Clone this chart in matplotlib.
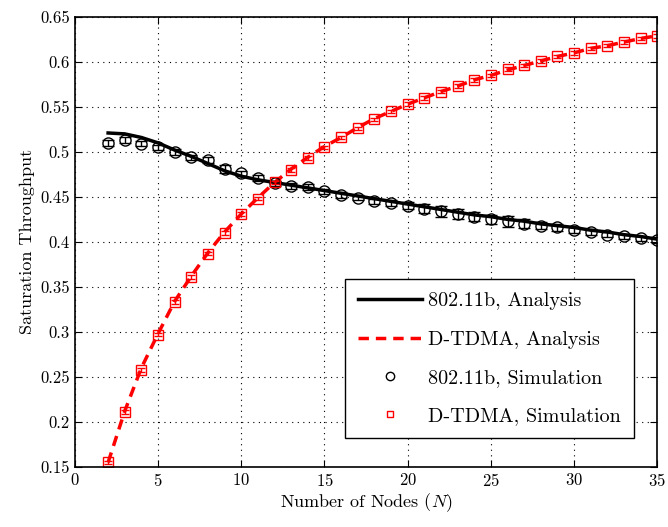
import matplotlib
matplotlib.use("Agg")
import matplotlib.pyplot as plt
from matplotlib.lines import Line2D
import numpy as np

plt.rcParams['font.family'] = 'serif'
plt.rcParams['font.serif'] = ['cmr10']
plt.rcParams['mathtext.fontset'] = 'cm'
plt.rcParams['axes.formatter.use_mathtext'] = True
plt.rcParams['xtick.direction'] = 'in'
plt.rcParams['ytick.direction'] = 'in'

# Nombre de noeuds
nodes = list(range(2, 36))

# 802.11b analyse
dcf_ana = [0.521, 0.520, 0.516, 0.510, 0.502, 0.495, 0.487, 0.479, 0.473, 0.469,
           0.466, 0.463, 0.460, 0.457, 0.454, 0.451, 0.448, 0.445, 0.442, 0.439,
           0.436, 0.433, 0.430, 0.428, 0.425, 0.423, 0.420, 0.418, 0.416, 0.413,
           0.411, 0.408, 0.406, 0.403]

# D-TDMA analyse
tdma_ana = [0.155, 0.212, 0.260, 0.298, 0.334, 0.362, 0.388, 0.411, 0.431, 0.449,
            0.466, 0.481, 0.494, 0.506, 0.516, 0.527, 0.537, 0.545, 0.553, 0.560,
            0.567, 0.573, 0.580, 0.585, 0.591, 0.596, 0.601, 0.606, 0.610, 0.615,
            0.618, 0.622, 0.626, 0.629]

# 802.11b simulation
dcf_sim = [0.510, 0.513, 0.509, 0.505, 0.500, 0.494, 0.491, 0.481, 0.476, 0.471,
           0.465, 0.462, 0.461, 0.456, 0.452, 0.449, 0.445, 0.443, 0.440, 0.437,
           0.434, 0.431, 0.428, 0.425, 0.423, 0.420, 0.418, 0.416, 0.413, 0.411,
           0.408, 0.406, 0.404, 0.402]
dcf_err = [0.003, 0.003, 0.003, 0.003, 0.003, 0.003, 0.003, 0.004, 0.003, 0.003,
           0.003, 0.003, 0.003, 0.003, 0.003, 0.003, 0.003, 0.003, 0.004, 0.005,
           0.006, 0.006, 0.005, 0.005, 0.006, 0.005, 0.004, 0.004, 0.003, 0.003,
           0.003, 0.003, 0.003, 0.003]

# D-TDMA simulation
tdma_sim = [0.155, 0.211, 0.258, 0.297, 0.333, 0.361, 0.387, 0.410, 0.431, 0.448,
            0.466, 0.480, 0.493, 0.505, 0.516, 0.526, 0.536, 0.545, 0.553, 0.560,
            0.567, 0.573, 0.580, 0.585, 0.592, 0.596, 0.601, 0.606, 0.610, 0.615,
            0.618, 0.622, 0.626, 0.629]

fig = plt.figure(figsize=(6.68, 5.27), dpi=100)
ax = fig.add_axes([0.112, 0.114, 0.872, 0.854])

ax.plot(nodes, dcf_ana, color='k', linewidth=2.5)
ax.plot(nodes, tdma_ana, color='#ff0000', linewidth=2.5, linestyle=(0, (3, 2)))
ax.errorbar(nodes, dcf_sim, yerr=dcf_err, fmt='o', mfc='none', mec='k', ms=8,
            mew=1.0, ecolor='k', elinewidth=1.0, capsize=4)
ax.errorbar(nodes, tdma_sim, yerr=0.002, fmt='s', mfc='none', mec='#ff0000', ms=7,
            mew=1.0, ecolor='#ff0000', elinewidth=1.0, capsize=3)

ax.set_xlim(0, 35)
ax.set_ylim(0.15, 0.65)
ax.set_xticks(range(0, 36, 5))
ax.set_yticks(np.arange(0.15, 0.651, 0.05))
ax.set_yticklabels(['0.15', '0.2', '0.25', '0.3', '0.35', '0.4', '0.45',
                    '0.5', '0.55', '0.6', '0.65'])
ax.tick_params(labelsize=12, top=True, right=True, length=5)
ax.grid(True, linestyle=(0, (1, 4)), color='k', linewidth=0.8)

ax.set_xlabel('Number of Nodes ($N$)', fontsize=13, labelpad=2)
ax.set_ylabel('Saturation Throughput', fontsize=13)

# legende avec marqueurs simples
handles = [
    Line2D([], [], color='k', linewidth=2.5),
    Line2D([], [], color='#ff0000', linewidth=2.5, linestyle=(0, (3, 2))),
    Line2D([], [], linestyle='none', marker='o', mfc='none', mec='k', ms=6, mew=1.0),
    Line2D([], [], linestyle='none', marker='s', mfc='none', mec='#ff0000', ms=5, mew=1.0),
]
labels = ['802.11b, Analysis', 'D-TDMA, Analysis',
          '802.11b, Simulation', 'D-TDMA, Simulation']
leg = ax.legend(handles, labels, loc='lower right', bbox_to_anchor=(0.96, 0.064),
                fontsize=14.5, fancybox=False, edgecolor='k', framealpha=1,
                handlelength=3.2, handletextpad=0.3, borderpad=0.65,
                labelspacing=1.0, borderaxespad=0)
leg.get_frame().set_linewidth(1.0)

for s in ax.spines.values():
    s.set_linewidth(1.2)

plt.savefig('out.png', dpi=100)
